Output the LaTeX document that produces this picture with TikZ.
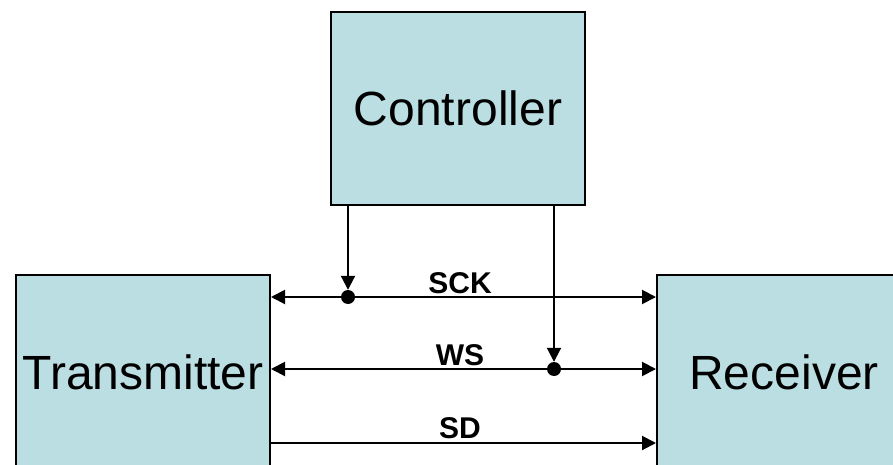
\documentclass[tikz,border=0pt]{standalone}
\usepackage{fontspec}
\setmainfont{Liberation Sans}
\usetikzlibrary{arrows.meta}
\definecolor{boxfill}{RGB}{187,222,227}
\tikzset{
  blockbox/.style={draw=black, line width=2pt, fill=boxfill, minimum width=254pt, minimum height=194pt, inner sep=0pt, font=\fontsize{48}{54}\selectfont},
  sig/.style={line width=2pt, {Triangle[length=14pt,width=14pt]}-{Triangle[length=14pt,width=14pt]}},
  sigone/.style={line width=2pt, -{Triangle[length=14pt,width=14pt]}},
  lbl/.style={font=\fontsize{30}{34}\selectfont\bfseries, inner sep=0pt},
  dot/.style={circle, fill=black, inner sep=0pt, minimum size=14pt}
}
\begin{document}
\begin{tikzpicture}[x=1pt,y=-1pt]
\useasboundingbox (0,0) rectangle (893,465);
\clip (0,0) rectangle (893,465);
\node[blockbox, minimum height=193pt] (C) at (458,108.5) {Controller};
\node[blockbox] (T) at (143,372) {Transmitter};
\node[blockbox] (R) at (784,372) {Receiver};
\coordinate (sck) at (0,297);
\coordinate (ws) at (0,369);
\coordinate (sd) at (0,443);
\draw[sig] (T.east |- sck) -- (R.west |- sck);
\draw[sig] (T.east |- ws) -- (R.west |- ws);
\draw[sigone] (T.east |- sd) -- (R.west |- sd);
\node[dot] (d1) at (348,297) {};
\node[dot] (d2) at (554,369) {};
\draw[sigone] (C.south -| d1) -- (d1.north);
\draw[sigone] (C.south -| d2) -- (d2.north);
\node[lbl] (lsck) at (460,283) {SCK};
\node[lbl] (lws) at (460,355) {WS};
\node[lbl] (lsd) at (460,428) {SD};
\end{tikzpicture}
\end{document}
